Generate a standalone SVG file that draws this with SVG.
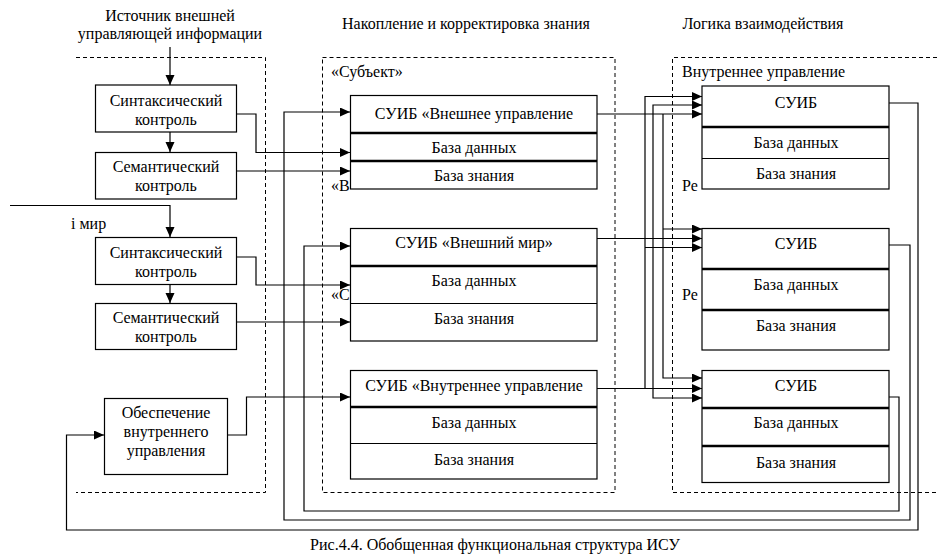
<svg xmlns="http://www.w3.org/2000/svg" width="938" height="558" viewBox="0 0 938 558">
<style>
text{font-size:16px;fill:#000}
.c{text-anchor:middle}
.box{fill:#fff;stroke:#000;stroke-width:1.2}
.thick{stroke:#000;stroke-width:2.6}
.thin{stroke:#000;stroke-width:1.2}
.dash{fill:none;stroke:#000;stroke-width:1;stroke-dasharray:4,3}
.con path{fill:none;stroke:#000;stroke-width:1.2}
.ar{marker-end:url(#a)}
</style>
<defs>
<marker id="a" markerUnits="userSpaceOnUse" markerWidth="11" markerHeight="10" refX="10" refY="4.5" orient="auto">
<path d="M0,0 L10,4.5 L0,9 z" fill="#000"/>
</marker>
</defs>
<rect width="938" height="558" fill="#fff"/>
<g font-family="Liberation Serif, Times New Roman, serif">
<g id="titles">
<text class="c" x="170" y="21">Источник внешней</text>
<text class="c" x="170" y="39">управляющей информации</text>
<text class="c" x="466" y="29">Накопление и корректировка знания</text>
<text class="c" x="763" y="29">Логика взаимодействия</text>
<text x="71" y="229">i мир</text>
<text class="c" x="495" y="550">Рис.4.4. Обобщенная функциональная структура ИСУ</text>
</g>

<g id="containers">
<path class="dash" d="M76,57.5 H265.5 V492.5 H76"/>
<rect class="dash" x="322.5" y="57.5" width="292.5" height="435"/>
<path class="dash" d="M937,57.5 H672.5 V492.5 H937"/>
<text x="331" y="77">«Субъект»</text>
<text x="331" y="191">«В</text>
<text x="331" y="300">«С</text>
<text x="682" y="77">Внутреннее управление</text>
<text x="682" y="191">Ре</text>
<text x="682" y="300">Ре</text>
</g>

<g id="connectors" class="con">
<path class="ar" d="M170,47 V85"/>
<path class="ar" d="M170,132 V152"/>
<path class="ar" d="M10,205.5 H170 V237"/>
<path class="ar" d="M170,284 V303"/>
<path class="ar" d="M237,114 H256 V152.5 H350"/>
<path class="ar" d="M237,171 H350"/>
<path class="ar" d="M237,257 H256 V285 H350"/>
<path class="ar" d="M237,322 H350"/>
<path class="ar" d="M228,435 H246.5 V397 H350"/>
<path class="ar" d="M889,103 H918 V530 H66.5 V435 H104"/>
<path class="ar" d="M889,245 H910 V520 H284 V112 H350"/>
<path class="ar" d="M889,397 H899 V511 H304 V246 H350"/>
<path class="ar" d="M597,114 H702"/>
<path class="ar" d="M663,114 V378 H702"/>
<path class="ar" d="M663,229 H702"/>
<path class="ar" d="M597,238.5 H702"/>
<path class="ar" d="M653,238.5 V105 H702"/>
<path class="ar" d="M653,238.5 V398 H702"/>
<path class="ar" d="M597,388.5 H702"/>
<path class="ar" d="M645,388.5 V96.5 H702"/>
<path class="ar" d="M645,247.5 H702"/>
</g>

<g id="syn1">
<rect class="box" x="95.5" y="85" width="141" height="47"/>
<text class="c" x="166" y="106">Синтаксический</text>
<text class="c" x="166" y="125">контроль</text>
</g>
<g id="sem1">
<rect class="box" x="95.5" y="152.5" width="141" height="46.5"/>
<text class="c" x="166" y="172">Семантический</text>
<text class="c" x="166" y="191">контроль</text>
</g>
<g id="syn2">
<rect class="box" x="95.5" y="237.5" width="141" height="47"/>
<text class="c" x="166" y="258">Синтаксический</text>
<text class="c" x="166" y="277">контроль</text>
</g>
<g id="sem2">
<rect class="box" x="95.5" y="303.5" width="141" height="46"/>
<text class="c" x="166" y="323">Семантический</text>
<text class="c" x="166" y="342">контроль</text>
</g>
<g id="obesp">
<rect class="box" x="104.5" y="398.5" width="123" height="76"/>
<text class="c" x="166" y="418">Обеспечение</text>
<text class="c" x="166" y="437">внутреннего</text>
<text class="c" x="166" y="456">управления</text>
</g>

<g id="m1">
<rect class="box" x="350.5" y="95.5" width="246.5" height="93.5"/>
<line class="thick" x1="350.5" y1="133" x2="597" y2="133"/>
<line class="thick" x1="350.5" y1="161" x2="597" y2="161"/>
<text class="c" x="474" y="119">СУИБ «Внешнее управление</text>
<text class="c" x="474" y="153">База данных</text>
<text class="c" x="474" y="181">База знания</text>
</g>
<g id="m2">
<rect class="box" x="350.5" y="228.5" width="246.5" height="112.5"/>
<line class="thick" x1="350.5" y1="266" x2="597" y2="266"/>
<line class="thin" x1="350.5" y1="303.5" x2="597" y2="303.5"/>
<text class="c" x="474" y="248">СУИБ «Внешний мир»</text>
<text class="c" x="474" y="286">База данных</text>
<text class="c" x="474" y="324">База знания</text>
</g>
<g id="m3">
<rect class="box" x="350.5" y="370.5" width="246.5" height="108.5"/>
<line class="thick" x1="350.5" y1="407" x2="597" y2="407"/>
<line class="thin" x1="350.5" y1="443.5" x2="597" y2="443.5"/>
<text class="c" x="474" y="391">СУИБ «Внутреннее управление</text>
<text class="c" x="474" y="428">База данных</text>
<text class="c" x="474" y="465">База знания</text>
</g>

<g id="r1">
<rect class="box" x="702" y="86" width="187" height="103"/>
<line class="thick" x1="702" y1="127" x2="889" y2="127"/>
<line class="thin" x1="702" y1="158.5" x2="889" y2="158.5"/>
<text class="c" x="796" y="108">СУИБ</text>
<text class="c" x="796" y="148">База данных</text>
<text class="c" x="796" y="179">База знания</text>
</g>
<g id="r2">
<rect class="box" x="702" y="228.5" width="187" height="121.5"/>
<line class="thick" x1="702" y1="269" x2="889" y2="269"/>
<line class="thick" x1="702" y1="310" x2="889" y2="310"/>
<text class="c" x="796" y="249">СУИБ</text>
<text class="c" x="796" y="290">База данных</text>
<text class="c" x="796" y="331">База знания</text>
</g>
<g id="r3">
<rect class="box" x="702" y="370.5" width="187" height="112"/>
<line class="thick" x1="702" y1="408" x2="889" y2="408"/>
<line class="thick" x1="702" y1="446" x2="889" y2="446"/>
<text class="c" x="796" y="391">СУИБ</text>
<text class="c" x="796" y="428">База данных</text>
<text class="c" x="796" y="468">База знания</text>
</g>
</g>
</svg>
